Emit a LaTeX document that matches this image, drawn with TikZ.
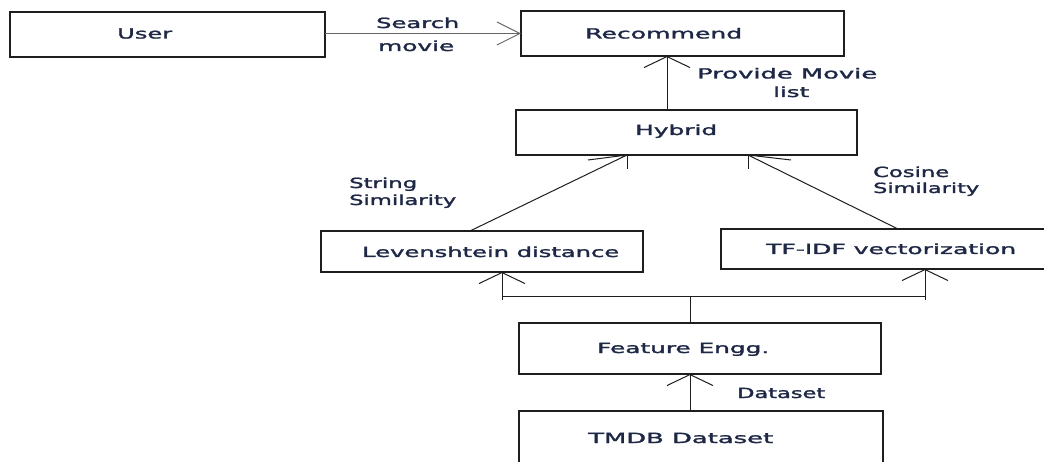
\documentclass[tikz,border=0pt]{standalone}
\usepackage{fontspec}
\setmainfont{DejaVu Sans}[BoldFont=DejaVu Sans,BoldFeatures={FakeBold=1.5}]
\usepackage{graphicx}
\usetikzlibrary{arrows.meta}
\definecolor{txtc}{RGB}{30,40,70}
\definecolor{linec}{RGB}{30,30,30}
\newcommand{\fw}[2]{\resizebox{#1pt}{\height}{#2}}
\begin{document}
\begin{tikzpicture}[x=1pt,y=-1pt,
  box/.style={draw=linec,line width=1.3pt,inner sep=0pt,outer sep=0pt},
  conn/.style={draw=linec,line width=1pt},
  hbarb/.style={-{Straight Barb[length=23pt,width=23pt]}},
  vbarb/.style={-{Straight Barb[length=11pt,width=46pt]}},
  txt/.style={inner sep=0pt,anchor=base west,text=txtc,font=\fontsize{14}{17}\selectfont\bfseries}]
\fill[white] (0,0) rectangle (1044,462);
\useasboundingbox (0,0) rectangle (1044,462);

% boxes
\node[box,minimum width=315pt,minimum height=45pt] (user) at (167.5,34.5) {};
\node[box,minimum width=323pt,minimum height=45pt] (rec) at (682.5,33.5) {};
\node[box,minimum width=341pt,minimum height=45pt] (hyb) at (686.5,132.5) {};
\node[box,minimum width=322pt,minimum height=41pt] (lev) at (482,251.5) {};
\node[box,minimum width=349pt,minimum height=40pt] (tfidf) at (895.5,249) {};
\node[box,minimum width=362pt,minimum height=51pt] (feat) at (700,348.5) {};
\node[box,minimum width=364pt,minimum height=79pt] (tmdb) at (701,450.5) {};

% box texts
\node[txt] (tuser) at (117,38.5) {\fw{55}{User}};
\node[txt] (trec) at (585,38.5) {\fw{157}{Recommend}};
\node[txt] (thyb) at (635,135) {\fw{82}{Hybrid}};
\node[txt] (tlev) at (362,257) {\fw{257}{Levenshtein distance}};
\node[txt] (ttf) at (766,254) {\fw{250}{TF-IDF vectorization}};
\node[txt] (tfeat) at (597,353) {\fw{172}{Feature Engg.}};
\node[txt] (ttmdb) at (588,443) {\fw{185}{TMDB Dataset}};

% connector labels
\node[txt] (ls1) at (376,28) {\fw{83}{Search}};
\node[txt] (ls2) at (378,51) {\fw{76}{movie}};
\node[txt] (lp1) at (697,78.5) {\fw{180}{Provide Movie}};
\node[txt] (lp2) at (773,97) {\fw{36}{list}};
\node[txt] (lst1) at (349,188) {\fw{68}{String}};
\node[txt] (lst2) at (349,205) {\fw{107}{Similarity}};
\node[txt] (lc1) at (873,177) {\fw{76}{Cosine}};
\node[txt] (lc2) at (873,193) {\fw{106}{Similarity}};
\node[txt] (ld) at (737,398) {\fw{88}{Dataset}};

% connectors
\draw[conn,draw=black!60,hbarb] (user.east |- rec.west) -- (rec.west);

\coordinate (px) at (667,0);
\draw[conn,vbarb] (px |- hyb.north) -- (px |- rec.south);

\coordinate (tipL) at ([xshift=-59.5pt]hyb.south);
\coordinate (tipR) at ([xshift=61.5pt]hyb.south);
\draw[conn] ([xshift=-12pt]lev.north) -- (tipL) -- ++(-39,5);
\draw[conn] (tipL) -- ++(0,14);
\draw[conn] ([xshift=2.5pt]tfidf.north) -- (tipR) -- ++(43,5);
\draw[conn] (tipR) -- ++(0,14);

\coordinate (dx) at (690,0);
\coordinate (busL) at (502,297);
\coordinate (busR) at (925,297);
\draw[conn] (dx |- feat.north) -- (dx |- busL);
\draw[conn] (busL) -- (busR);
\draw[conn,vbarb] ([yshift=-3pt]busL) -- (busL |- lev.south);
\draw[conn,vbarb] ([yshift=-3pt]busR) -- (busR |- tfidf.south);

\draw[conn,vbarb] (dx |- tmdb.north) -- (dx |- feat.south);
\end{tikzpicture}
\end{document}
